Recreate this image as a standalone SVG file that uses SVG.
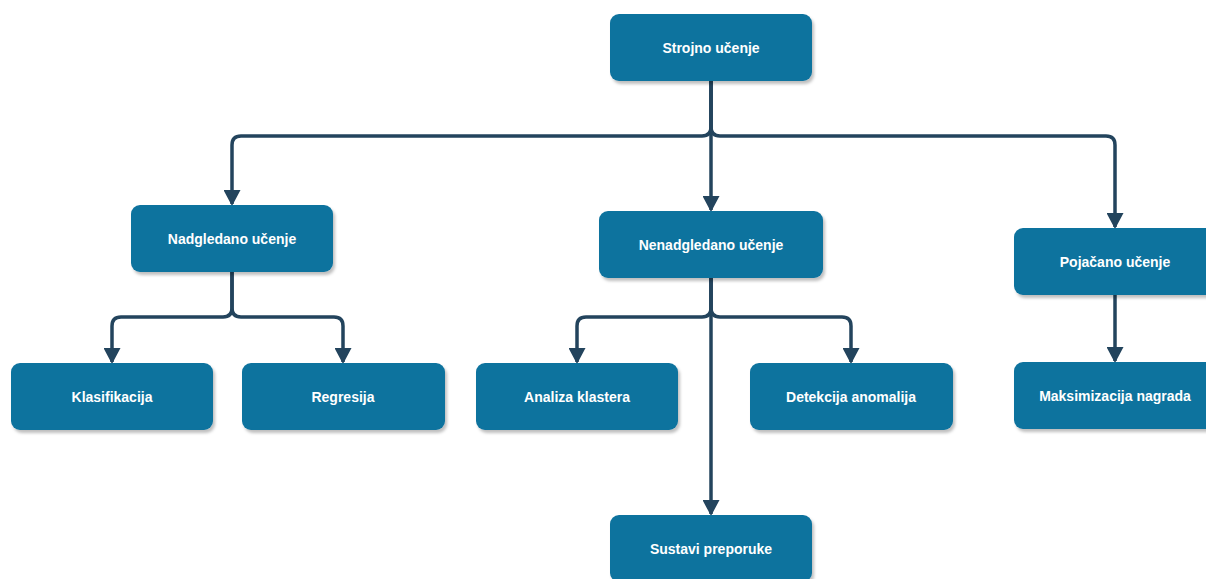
<svg xmlns="http://www.w3.org/2000/svg" width="1206" height="579" viewBox="0 0 1206 579">
  <style>
    .box { fill: #10739e; filter: url(#shadow); }
    .label { fill: #ffffff; font-family: "Liberation Sans", Arial, sans-serif; font-size: 14px; font-weight: bold; text-anchor: middle; dominant-baseline: central; }
    .edge { fill: none; stroke: #23445d; stroke-width: 3.5; marker-end: url(#arrow); }
  </style>
  <defs>
    <filter id="shadow" x="-10%" y="-10%" width="130%" height="140%">
      <feDropShadow dx="2" dy="3" stdDeviation="1.5" flood-color="#000000" flood-opacity="0.25"/>
    </filter>
    <marker id="arrow" viewBox="0 0 16 17" refX="14" refY="8.5" markerWidth="16" markerHeight="17" markerUnits="userSpaceOnUse" orient="auto">
      <path d="M0,0 L16,8.5 L0,17 Z" fill="#23445d"/>
    </marker>
  </defs>

  <g id="connectors">
    <!-- Strojno učenje -> three branches -->
    <path class="edge" d="M711,81 V127 Q711,136 702,136 H241 Q232,136 232,145 V204"/>
    <path class="edge" d="M711,81 V210"/>
    <path class="edge" d="M711,81 V127 Q711,136 720,136 H1106 Q1115,136 1115,145 V227"/>
    <!-- Nadgledano učenje -> children -->
    <path class="edge" d="M232,272 V308 Q232,317 223,317 H121 Q112,317 112,326 V362"/>
    <path class="edge" d="M232,272 V308 Q232,317 241,317 H334 Q343,317 343,326 V362"/>
    <!-- Nenadgledano učenje -> children -->
    <path class="edge" d="M711,278 V308 Q711,317 702,317 H586 Q577,317 577,326 V362"/>
    <path class="edge" d="M711,278 V514"/>
    <path class="edge" d="M711,278 V308 Q711,317 720,317 H842 Q851,317 851,326 V362"/>
    <!-- Pojačano učenje -> child -->
    <path class="edge" d="M1115,295 V361"/>
  </g>

  <g id="node-strojno">
    <rect class="box" x="610" y="14" width="202" height="67" rx="9"/>
    <text class="label" x="711" y="47.5">Strojno učenje</text>
  </g>
  <g id="node-nadgledano">
    <rect class="box" x="131" y="205" width="202" height="67" rx="9"/>
    <text class="label" x="232" y="238.5">Nadgledano učenje</text>
  </g>
  <g id="node-nenadgledano">
    <rect class="box" x="599" y="211" width="224" height="67" rx="9"/>
    <text class="label" x="711" y="244.5">Nenadgledano učenje</text>
  </g>
  <g id="node-pojacano">
    <rect class="box" x="1014" y="228" width="202" height="67" rx="9"/>
    <text class="label" x="1115" y="261.5">Pojačano učenje</text>
  </g>
  <g id="node-klasifikacija">
    <rect class="box" x="11" y="363" width="202" height="67" rx="9"/>
    <text class="label" x="112" y="396.5">Klasifikacija</text>
  </g>
  <g id="node-regresija">
    <rect class="box" x="242" y="363" width="203" height="67" rx="9"/>
    <text class="label" x="343" y="396.5">Regresija</text>
  </g>
  <g id="node-analiza">
    <rect class="box" x="476" y="363" width="202" height="67" rx="9"/>
    <text class="label" x="577" y="396.5">Analiza klastera</text>
  </g>
  <g id="node-detekcija">
    <rect class="box" x="750" y="363" width="203" height="67" rx="9"/>
    <text class="label" x="851" y="396.5">Detekcija anomalija</text>
  </g>
  <g id="node-maksimizacija">
    <rect class="box" x="1014" y="362" width="202" height="67" rx="9"/>
    <text class="label" x="1115" y="395.5">Maksimizacija nagrada</text>
  </g>
  <g id="node-sustavi">
    <rect class="box" x="610" y="515" width="202" height="67" rx="9"/>
    <text class="label" x="711" y="549">Sustavi preporuke</text>
  </g>
</svg>
